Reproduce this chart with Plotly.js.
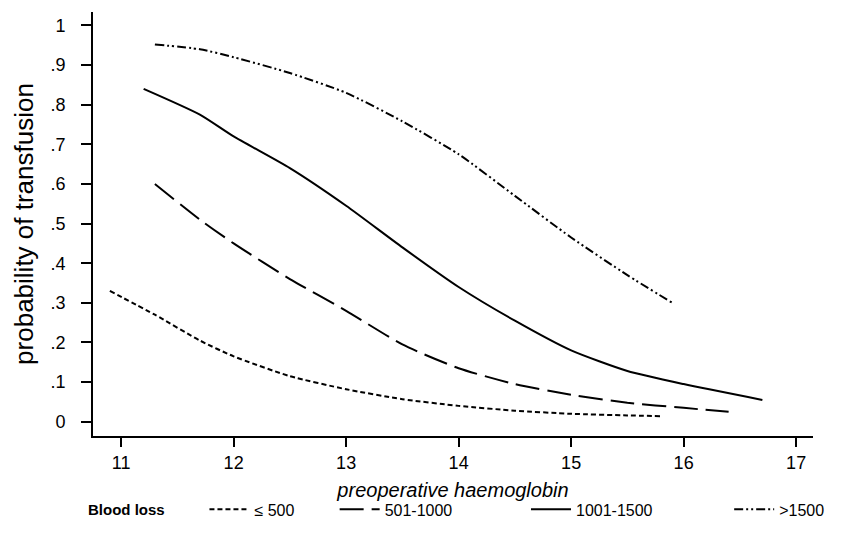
<!DOCTYPE html>
<html>
<head>
<meta charset="utf-8">
<script src="https://cdn.plot.ly/plotly-3.0.1.min.js"></script>
<style>html,body{margin:0;padding:0;background:#fff}#chart{width:842px;height:539px}</style>
</head>
<body>
<div id="chart"></div>
<script>
// Data
var seriesNames = ["\u2264 500", "501-1000", "1001-1500", ">1500"];

var hbLe500 = [10.9, 11.3, 11.7, 12.0, 12.5, 13.0, 13.5, 14.0, 14.5, 15.0, 15.5, 15.8];
var pLe500  = [0.33, 0.27, 0.205, 0.165, 0.115, 0.082, 0.057, 0.04, 0.028, 0.02, 0.016, 0.014];

var hb501 = [11.3, 11.7, 12.0, 12.5, 13.0, 13.5, 14.0, 14.5, 15.0, 15.5, 16.0, 16.4];
var p501  = [0.60, 0.51, 0.45, 0.36, 0.28, 0.195, 0.135, 0.095, 0.068, 0.048, 0.035, 0.025];

var hb1001 = [11.2, 11.7, 12.0, 12.5, 13.0, 13.5, 14.0, 14.5, 15.0, 15.5, 16.0, 16.7];
var p1001  = [0.84, 0.775, 0.72, 0.64, 0.545, 0.44, 0.34, 0.255, 0.18, 0.128, 0.095, 0.055];

var hbGt1500 = [11.3, 11.7, 12.0, 12.5, 13.0, 13.5, 14.0, 14.5, 15.0, 15.5, 15.9];
var pGt1500  = [0.952, 0.94, 0.92, 0.88, 0.83, 0.758, 0.675, 0.57, 0.465, 0.37, 0.30];

var xTickVals = [11, 12, 13, 14, 15, 16, 17];
var xTickText = ["11", "12", "13", "14", "15", "16", "17"];
var yTickVals = [0, 0.1, 0.2, 0.3, 0.4, 0.5, 0.6, 0.7, 0.8, 0.9, 1];
var yTickText = ["0", ".1", ".2", ".3", ".4", ".5", ".6", ".7", ".8", ".9", "1"];

var FONT = "Arial, 'Liberation Sans', sans-serif";
var dashes = ["5px,3px", "24px,8px", "solid", "9px,3px,2px,3px,2px,3px"];
var xs = [hbLe500, hb501, hb1001, hbGt1500];
var ys = [pLe500, p501, p1001, pGt1500];
var legendIds = ["legend", "legend2", "legend3", "legend4"];

var traces = xs.map(function (x, i) {
  return {
    type: "scatter", mode: "lines", x: x, y: ys[i], name: seriesNames[i],
    line: {color: "#000", width: 2, dash: dashes[i], shape: "spline", smoothing: 0.6},
    legend: legendIds[i], showlegend: true, hoverinfo: "skip"
  };
});

function px2paperX(px) { return (px - 93) / 730; }
function px2paperY(py) { return (445 - py) / 433; }

function mkLegend(pxLeft) {
  return {
    x: px2paperX(pxLeft), xanchor: "left",
    y: px2paperY(520), yanchor: "middle",
    orientation: "h", bgcolor: "rgba(0,0,0,0)", borderwidth: 0,
    itemwidth: 40,
    font: {family: FONT, size: 16, color: "#000"}
  };
}

var layout = {
  width: 842, height: 539,
  margin: {l: 93, r: 19, t: 12, b: 94, pad: 0},
  paper_bgcolor: "#fff", plot_bgcolor: "#fff",
  showlegend: true,
  font: {family: FONT, color: "#000"},
  xaxis: {
    range: [10.75, 17.15], tickvals: xTickVals, ticktext: xTickText,
    showgrid: false, zeroline: false, showline: true, linecolor: "#000", linewidth: 2,
    ticks: "outside", ticklen: 9, tickwidth: 2, tickcolor: "#000",
    tickfont: {family: FONT, size: 18, color: "#000"},
    title: {text: "preoperative haemoglobin", font: {family: FONT, size: 20, color: "#000", style: "italic"}, standoff: 11},
    automargin: false
  },
  yaxis: {
    range: [-0.036, 1.034], tickvals: yTickVals, ticktext: yTickText,
    showgrid: false, zeroline: false, showline: true, linecolor: "#000", linewidth: 2,
    ticks: "outside", ticklen: 10, tickwidth: 2, tickcolor: "#000",
    ticklabelstandoff: 12,
    tickfont: {family: FONT, size: 18, color: "#000"},
    title: {text: "probability of transfusion", font: {family: FONT, size: 26, color: "#000"}, standoff: 9},
    automargin: false
  },
  legend: mkLegend(206),
  legend2: mkLegend(338),
  legend3: mkLegend(532),
  legend4: mkLegend(738),
  annotations: [{
    text: "Blood loss", xref: "paper", yref: "paper",
    x: px2paperX(86), xanchor: "left", y: px2paperY(520), yanchor: "middle",
    showarrow: false, font: {family: FONT, size: 15, color: "#000", weight: "bold"}
  }]
};

Plotly.newPlot("chart", traces, layout, {staticPlot: true, displayModeBar: false});
</script>
</body>
</html>
